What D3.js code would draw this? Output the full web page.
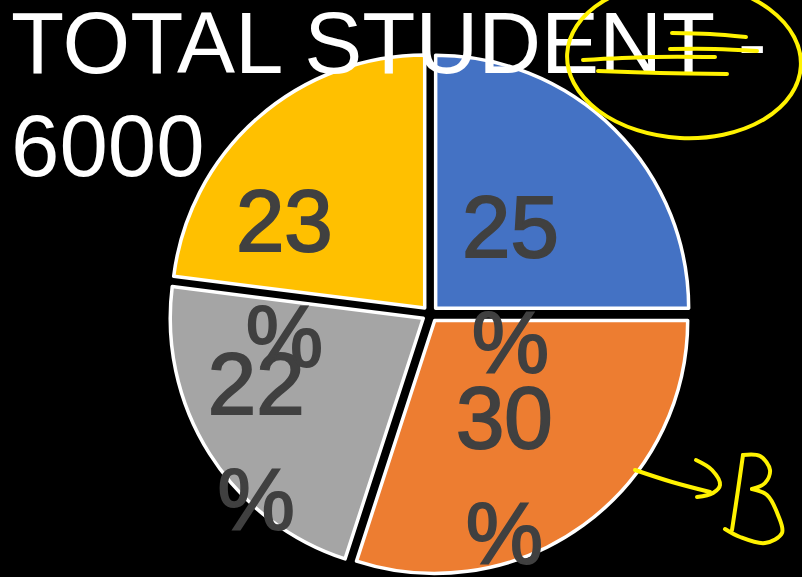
<!DOCTYPE html>
<html>
<head>
<meta charset="utf-8">
<script src="https://cdn.jsdelivr.net/npm/d3@7"></script>
<style>
  html, body { margin: 0; padding: 0; background: #000; }
  svg { display: block; }
</style>
</head>
<body>
<svg id="chart" width="802" height="577"></svg>
<script>
var categories = ["A", "B", "C", "D"]
var values = [25, 30, 22, 23]
var colors = ["#4472C4", "#ED7D31", "#A5A5A5", "#FFC000"]
var titleLines = ["TOTAL STUDENT -", "6000"]

var svg = d3.select("svg#chart"),
    width = +svg.attr("width"),
    height = +svg.attr("height")

svg.append("rect").attr("width", width).attr("height", height).attr("fill", "#000")

var cx = 430, cy = 314, radius = 253, explode = 8

var pie = d3.pie().sort(null).value(function(d) { return d })
var arcs = pie(values)
var arc = d3.arc().innerRadius(0).outerRadius(radius)

var g = svg.append("g").attr("transform", "translate(" + cx + "," + cy + ")")

function mid(d) { return (d.startAngle + d.endAngle) / 2 }

g.selectAll("path.slice")
    .data(arcs)
    .enter().append("path")
    .attr("class", "slice")
    .attr("d", arc)
    .attr("fill", function(d, i) { return colors[i] })
    .attr("stroke", "#fff")
    .attr("stroke-width", 3.5)
    .attr("stroke-linejoin", "round")
    .attr("transform", function(d) {
        var a = mid(d)
        return "translate(" + (Math.sin(a) * explode) + "," + (-Math.cos(a) * explode) + ")"
    })

// labels wrap to two lines ("25" / "%"), Excel pushes the left ones further out
var labelNudge = [-9, 0, -67, -62]
var fontSize = 87, lineGap = 115

var labels = g.selectAll("text.lbl")
    .data(arcs)
    .enter().append("text")
    .attr("class", "lbl")
    .attr("text-anchor", "middle")
    .style("font-family", "'Liberation Sans', Arial, sans-serif")
    .style("font-size", fontSize + "px")
    .attr("fill", "#404040")
    .attr("stroke", "#404040")
    .attr("stroke-width", 2)
    .attr("transform", function(d, i) {
        var c = arc.centroid(d)
        return "translate(" + (c[0] + labelNudge[i]) + "," + (c[1] + 32) + ")"
    })

labels.append("tspan").attr("x", 0).attr("y", 0).text(function(d) { return d.data })
labels.append("tspan").attr("x", 0).attr("y", lineGap).text("%")

// title
svg.selectAll("text.title")
    .data(titleLines)
    .enter().append("text")
    .attr("class", "title")
    .attr("x", 11)
    .attr("y", function(d, i) { return 73 + i * 103 })
    .attr("fill", "#fff")
    .style("font-family", "'Liberation Sans', Arial, sans-serif")
    .style("font-size", "87px")
    .text(function(d) { return d })

// yellow pen annotations
var ink = svg.append("g")
    .attr("fill", "none")
    .attr("stroke", "#fff200")
    .attr("stroke-width", 4)
    .attr("stroke-linecap", "round")
    .attr("stroke-linejoin", "round")

ink.append("ellipse")
    .attr("cx", 684).attr("cy", 60).attr("rx", 117).attr("ry", 78)
    .attr("transform", "rotate(3,684,60)")

var pen = d3.line().curve(d3.curveCatmullRom)
var strokes = [
    [[672, 33], [710, 34], [746, 37]],
    [[670, 49], [715, 49], [757, 51]],
    [[583, 60], [650, 57], [715, 57]],
    [[598, 71], [660, 73], [727, 74]],
    [[635, 470], [672, 482], [710, 492]],
    [[696, 460], [712, 470], [720, 485], [713, 493], [697, 497]],
    [[743, 455], [738, 490], [732, 530]],
    [[743, 455], [760, 456], [770, 470], [765, 483], [752, 489]],
    [[752, 489], [767, 495], [778, 515], [782, 533], [765, 543], [740, 537], [725, 529]]
]
ink.selectAll("path")
    .data(strokes)
    .enter().append("path")
    .attr("d", pen)
</script>
</body>
</html>
